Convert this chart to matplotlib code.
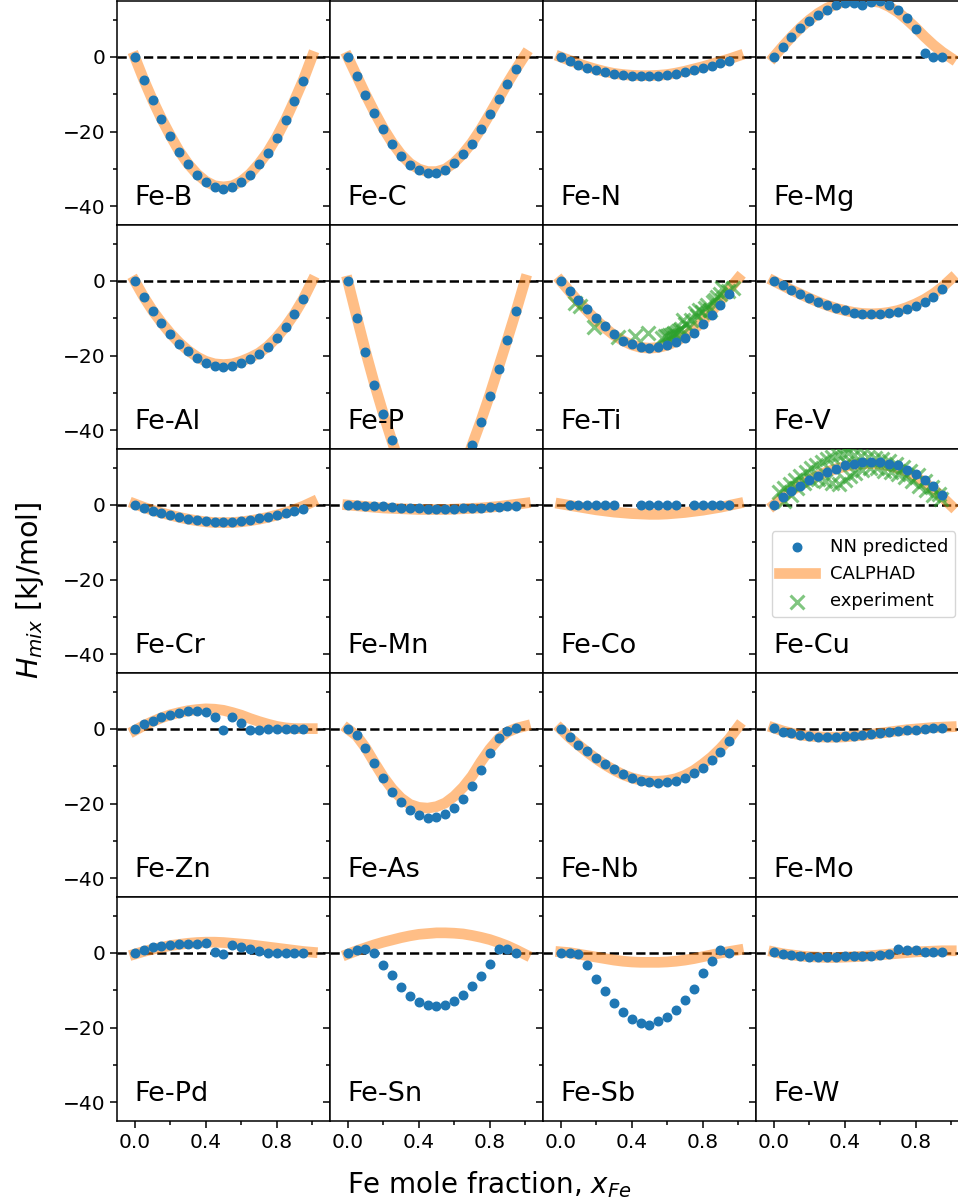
import numpy as np
import matplotlib.pyplot as plt
from matplotlib.ticker import MultipleLocator

nan = np.nan

# compositions (Fe mole fraction)
x_nn = [0.0, 0.05, 0.1, 0.15, 0.2, 0.25, 0.3, 0.35, 0.4, 0.45,
        0.5, 0.55, 0.6, 0.65, 0.7, 0.75, 0.8, 0.85, 0.9, 0.95]
x_cal = [0.0, 0.05, 0.1, 0.15, 0.2, 0.25, 0.3, 0.35, 0.4, 0.45, 0.5,
         0.55, 0.6, 0.65, 0.7, 0.75, 0.8, 0.85, 0.9, 0.95, 1.0]

# NN predicted / CALPHAD mixing enthalpies, kJ/mol
nn_B = [0, -6.1, -11.6, -16.6, -21.2, -25.4, -28.7, -31.5, -33.4, -34.8, -35.3, -34.8, -33.6, -31.5, -28.7, -25.8, -21.7, -17.0, -11.7, -6.3]
cal_B = [0, -6.0, -11.5, -16.5, -21.0, -25.2, -28.6, -31.3, -33.3, -34.5, -34.8, -34.5, -33.3, -31.3, -28.6, -25.4, -21.4, -16.8, -11.6, -6.1, 0.2]
nn_C = [0, -5.1, -10.1, -14.9, -19.4, -23.2, -26.4, -28.8, -30.4, -31.1, -31.1, -30.3, -28.5, -26.1, -23.2, -19.3, -15.3, -11.3, -7.1, -3.3]
cal_C = [0, -5.0, -10.0, -14.7, -19.1, -22.9, -26.1, -28.5, -30.0, -30.7, -30.7, -30.0, -28.3, -25.9, -22.9, -19.3, -15.3, -11.2, -7.0, -3.1, 0.6]
nn_N = [0, -1.2, -2.1, -3.0, -3.6, -4.1, -4.6, -4.8, -5.1, -5.1, -5.1, -5.1, -4.8, -4.6, -4.1, -3.6, -3.0, -2.4, -1.7, -1.1]
cal_N = [0, -0.9, -1.8, -2.6, -3.3, -3.9, -4.4, -4.7, -4.9, -5.0, -5.0, -4.9, -4.7, -4.3, -3.8, -3.2, -2.6, -1.9, -1.2, -0.5, 0.3]
nn_Mg = [0, 2.8, 5.4, 7.7, 9.7, 11.2, 12.7, 13.9, 14.5, 14.5, 13.9, 14.8, 15.1, 14.0, 12.7, 10.5, 7.4, 1.2, -0.1, -0.1]
cal_Mg = [0, 2.8, 5.4, 7.8, 9.9, 11.7, 13.1, 14.1, 14.8, 15.1, 15.2, 15.0, 14.6, 13.5, 12.0, 10.0, 7.8, 5.4, 3.2, 1.3, -0.3]

nn_Al = [0, -4.4, -8.1, -11.3, -14.2, -16.8, -18.8, -20.6, -22.0, -22.9, -23.0, -22.8, -22.0, -20.8, -19.5, -17.7, -15.3, -12.4, -8.9, -4.9]
cal_Al = [0, -4.2, -7.9, -11.1, -14.0, -16.5, -18.6, -20.3, -21.5, -22.2, -22.4, -22.2, -21.5, -20.5, -19.3, -17.5, -15.1, -12.2, -8.8, -4.8, 0.0]
nn_P = [0, -9.9, -19.1, -27.9, -35.6, -42.7, -49, -54, -57, -59, -60, -59, -57, -50, -43.8, -37.9, -30.8, -23.5, -15.7, -8.1]
cal_P = [0, -9.5, -18.8, -27.5, -35.5, -43, -50, -55, -58, -59.5, -60, -59.5, -57, -51, -44, -37.5, -30.5, -23, -15.5, -7.8, 0.3]
nn_Ti = [0, -2.7, -5.2, -7.6, -10.0, -12.1, -14.2, -16.0, -16.9, -17.7, -17.9, -17.7, -17.2, -16.4, -15.3, -13.8, -11.6, -9.2, -6.5, -3.6]
cal_Ti = [0, -2.8, -5.5, -8.1, -10.5, -12.6, -14.5, -16.0, -17.1, -17.8, -18.0, -17.8, -17.2, -16.2, -14.8, -13.0, -10.8, -8.2, -5.2, -2.2, 0.7]
nn_V = [0, -1.2, -2.4, -3.5, -4.5, -5.5, -6.4, -7.3, -7.9, -8.5, -8.9, -8.9, -8.9, -8.5, -8.2, -7.5, -6.7, -5.5, -4.2, -2.1]
cal_V = [0, -1.2, -2.4, -3.5, -4.6, -5.6, -6.5, -7.3, -7.9, -8.4, -8.7, -8.8, -8.7, -8.4, -7.9, -7.1, -6.1, -4.9, -3.4, -1.6, 0.6]

nn_Cr = [0, -0.9, -1.5, -2.1, -2.7, -3.2, -3.7, -4.0, -4.3, -4.5, -4.6, -4.5, -4.3, -4.0, -3.6, -3.2, -2.8, -2.2, -1.6, -1.1]
cal_Cr = [0.3, -0.6, -1.4, -2.1, -2.7, -3.3, -3.8, -4.2, -4.5, -4.7, -4.7, -4.7, -4.5, -4.2, -3.8, -3.3, -2.7, -2.0, -1.2, -0.3, 0.8]
nn_Mn = [0, 0, -0.2, -0.3, -0.4, -0.6, -0.7, -0.8, -0.9, -1.0, -1.0, -1.0, -1.0, -0.9, -0.8, -0.7, -0.6, -0.5, -0.4, -0.3]
cal_Mn = [0, -0.2, -0.4, -0.6, -0.8, -0.9, -1.0, -1.1, -1.2, -1.2, -1.2, -1.2, -1.1, -1.0, -0.9, -0.8, -0.6, -0.4, -0.1, 0.2, 0.5]
nn_Co = [nan, 0, 0, 0, 0, 0, 0, nan, nan, 0, 0, 0, 0, 0, nan, 0, 0, 0, 0, 0]
cal_Co = [0.3, -0.1, -0.5, -0.9, -1.3, -1.6, -1.9, -2.1, -2.3, -2.4, -2.5, -2.5, -2.4, -2.2, -2.0, -1.7, -1.4, -1.0, -0.6, -0.1, 0.4]
nn_Cu = [0, 2.1, 3.8, 5.2, 6.7, 7.8, 8.8, 9.7, 10.6, 11.1, 11.5, 11.6, 11.5, 11.1, 10.8, 9.4, 8.3, 6.8, 5.0, 2.8]
cal_Cu = [0, 2.0, 3.8, 5.3, 6.7, 7.9, 8.9, 9.7, 10.3, 10.8, 11.0, 11.1, 10.9, 10.5, 9.8, 8.9, 7.6, 6.0, 4.2, 2.1, -0.2]

nn_Zn = [0, 1.3, 2.2, 3.1, 3.8, 4.4, 4.7, 4.9, 4.6, 3.1, -0.4, 3.3, 1.7, -0.4, -0.4, 0.1, 0.1, 0.1, 0.1, 0.1]
cal_Zn = [-0.4, 0.9, 2.0, 3.0, 3.8, 4.4, 4.9, 5.2, 5.4, 5.3, 5.0, 4.4, 3.7, 2.8, 2.0, 1.3, 0.7, 0.3, 0.1, 0.1, 0.1]
nn_As = [0, -1.7, -5.2, -9.1, -13.2, -16.9, -19.6, -21.7, -23.1, -23.9, -23.6, -22.7, -21.1, -18.7, -15.3, -11.1, -6.3, -2.3, -0.5, 0.3]
cal_As = [0, -1.8, -5.0, -9.0, -12.8, -16.0, -18.5, -20.2, -21.0, -21.2, -20.8, -19.8, -18.0, -15.6, -12.6, -8.8, -5.4, -2.6, -0.8, 0.2, 0.8]
nn_Nb = [0, -2.1, -4.2, -6.0, -7.8, -9.4, -10.8, -12.0, -13.0, -13.8, -14.3, -14.5, -14.2, -13.8, -13.1, -11.9, -10.4, -8.4, -6.1, -3.3]
cal_Nb = [0, -2.3, -4.3, -6.2, -8.0, -9.6, -11.0, -12.2, -13.1, -13.7, -14.0, -14.0, -13.8, -13.3, -12.4, -11.1, -9.4, -7.5, -5.2, -2.6, 0.6]
nn_Mo = [0.2, -0.8, -1.2, -1.7, -2.0, -2.1, -2.2, -2.2, -2.0, -1.9, -1.6, -1.3, -1.1, -0.9, -0.6, -0.4, -0.2, 0, 0.2, 0.2]
cal_Mo = [0.3, -0.5, -1.1, -1.6, -1.9, -2.1, -2.2, -2.2, -2.1, -1.9, -1.7, -1.4, -1.1, -0.8, -0.5, -0.2, 0.0, 0.2, 0.4, 0.5, 0.6]

nn_Pd = [0, 0.9, 1.5, 1.9, 2.1, 2.3, 2.4, 2.4, 2.6, 0.3, -0.4, 2.2, 1.6, 1.1, 0.6, 0, 0, 0, 0, 0]
cal_Pd = [-0.3, 0.4, 1.0, 1.5, 2.0, 2.3, 2.6, 2.8, 2.9, 2.9, 2.8, 2.6, 2.4, 2.2, 1.9, 1.6, 1.3, 1.0, 0.7, 0.4, 0.2]
nn_Sn = [0, 0.8, 1.2, 0, -3.3, -6.0, -9.2, -11.6, -13.1, -14.0, -14.3, -13.9, -12.9, -11.3, -8.8, -6.1, -2.9, 1.2, 1.2, 0.1]
cal_Sn = [-0.3, 0.6, 1.4, 2.2, 2.9, 3.5, 4.1, 4.6, 5.0, 5.2, 5.4, 5.4, 5.3, 5.1, 4.7, 4.2, 3.6, 2.8, 1.9, 0.8, -0.4]
nn_Sb = [0, 0, -0.4, -3.1, -7.0, -10.3, -13.4, -15.9, -17.8, -18.8, -19.2, -18.2, -17.1, -15.3, -12.6, -9.6, -5.3, -2.1, 0.7, -0.1]
cal_Sb = [0.3, 0.1, -0.3, -0.7, -1.1, -1.5, -1.9, -2.2, -2.4, -2.5, -2.5, -2.5, -2.4, -2.2, -1.9, -1.5, -1.0, -0.5, 0.0, 0.4, 0.8]
nn_W = [0.2, -0.4, -0.6, -0.8, -1.1, -1.1, -1.1, -1.0, -0.9, -0.8, -0.7, -0.7, -0.6, -0.4, 1.0, 0.7, 0.7, 0.4, 0.3, 0.2]
cal_W = [0.3, -0.2, -0.5, -0.8, -1.0, -1.1, -1.2, -1.2, -1.1, -1.0, -0.9, -0.7, -0.5, -0.3, -0.1, 0.1, 0.3, 0.4, 0.5, 0.6, 0.6]

# experimental points
exp_Ti_x = [0.08, 0.107, 0.19, 0.32, 0.42, 0.49, 0.57, 0.59, 0.60, 0.61, 0.62, 0.63, 0.64, 0.65, 0.66,
            0.67, 0.675, 0.69, 0.70, 0.72, 0.735, 0.755, 0.77, 0.78, 0.795, 0.81, 0.825, 0.84, 0.855,
            0.87, 0.88, 0.895, 0.91, 0.94, 0.97]
exp_Ti_y = [-5.9, -6.7, -12.2, -15.0, -14.7, -14.0, -15.2, -14.8, -14.7, -14.5, -14.4, -14.2, -14.0, -13.8, -13.5,
            -13.1, -12.8, -10.4, -11.6, -12.2, -10.5, -8.6, -9.3, -7.7, -8.2, -7.3, -6.5, -7.7, -5.5,
            -5.2, -4.2, -3.5, -2.0, -2.8, -2.0]
exp_Cu_x = [0.03, 0.06, 0.09, 0.12, 0.15, 0.18, 0.21, 0.24, 0.27, 0.30, 0.33, 0.36, 0.39, 0.42,
            0.45, 0.49, 0.53, 0.57, 0.61, 0.65, 0.69, 0.73, 0.77, 0.81, 0.85, 0.89, 0.93,
            0.06, 0.10, 0.13, 0.17, 0.21, 0.25, 0.29, 0.33, 0.37, 0.40, 0.43, 0.46, 0.50, 0.54,
            0.58, 0.62, 0.66, 0.70, 0.74, 0.78, 0.82, 0.86, 0.90, 0.94]
exp_Cu_y = [3.5, 4.6, 5.6, 6.6, 7.8, 8.8, 9.8, 10.8, 11.6, 12.3, 12.9, 13.3, 13.6, 13.8,
            13.5, 13.2, 12.8, 12.6, 12.3, 11.8, 11.0, 10.2, 9.2, 8.0, 6.5, 4.8, 3.0,
            1.2, 2.8, 4.6, 5.8, 6.6, 6.9, 6.4, 5.8, 5.7, 6.6, 7.8, 8.7, 9.4, 9.9,
            9.8, 9.2, 8.8, 8.4, 7.6, 6.4, 5.0, 4.0, 2.8, 1.6]

labels = ['Fe-B', 'Fe-C', 'Fe-N', 'Fe-Mg',
          'Fe-Al', 'Fe-P', 'Fe-Ti', 'Fe-V',
          'Fe-Cr', 'Fe-Mn', 'Fe-Co', 'Fe-Cu',
          'Fe-Zn', 'Fe-As', 'Fe-Nb', 'Fe-Mo',
          'Fe-Pd', 'Fe-Sn', 'Fe-Sb', 'Fe-W']
nn_all = [nn_B, nn_C, nn_N, nn_Mg, nn_Al, nn_P, nn_Ti, nn_V, nn_Cr, nn_Mn,
          nn_Co, nn_Cu, nn_Zn, nn_As, nn_Nb, nn_Mo, nn_Pd, nn_Sn, nn_Sb, nn_W]
cal_all = [cal_B, cal_C, cal_N, cal_Mg, cal_Al, cal_P, cal_Ti, cal_V, cal_Cr, cal_Mn,
           cal_Co, cal_Cu, cal_Zn, cal_As, cal_Nb, cal_Mo, cal_Pd, cal_Sn, cal_Sb, cal_W]
experiments = {'Fe-Ti': (exp_Ti_x, exp_Ti_y), 'Fe-Cu': (exp_Cu_x, exp_Cu_y)}

fig, axes = plt.subplots(5, 4, figsize=(9.58, 12.03), dpi=100, sharex=True, sharey=True)
fig.subplots_adjust(left=117/958, right=969/958, top=1 - 1/1203, bottom=82/1203,
                    wspace=0, hspace=0)

for ax, name, nn, cal in zip(axes.flat, labels, nn_all, cal_all):
    ax.axhline(0, color='k', ls='--', lw=1.8, zorder=1)
    ax.plot(x_cal, cal, color='#ff7f0e', alpha=0.5, lw=7.7, zorder=2, label='CALPHAD')
    if name in experiments:
        ex, ey = experiments[name]
        ax.scatter(ex, ey, marker='x', s=100, linewidths=2.2, color='#2ca02c',
                   alpha=0.6, zorder=3, label='experiment')
    ax.scatter(x_nn, nn, s=38, color='#1f77b4', zorder=4, label='NN predicted')
    ax.text(0.08, 0.089, name, transform=ax.transAxes, fontsize=19.5, va='baseline')
    for sp in ax.spines.values():
        sp.set_linewidth(1.1)
    ax.tick_params(which='major', length=5, width=1.1, labelsize=14.5)
    ax.tick_params(which='minor', length=3, width=1.1)

ax0 = axes[0, 0]
ax0.set_xlim(-0.1, 1.1)
ax0.set_ylim(-45, 15)
ax0.xaxis.set_major_locator(MultipleLocator(0.4))
ax0.xaxis.set_minor_locator(MultipleLocator(0.2))
ax0.yaxis.set_major_locator(MultipleLocator(20))
ax0.yaxis.set_minor_locator(MultipleLocator(10))

axc = axes[2, 3]
h, l = axc.get_legend_handles_labels()
order = [l.index('NN predicted'), l.index('CALPHAD'), l.index('experiment')]
axc.legend([h[i] for i in order], [l[i] for i in order], loc='upper left',
           bbox_to_anchor=(0.074, 0.634), borderaxespad=0, fontsize=13)

fig.text(0.511, 0.0083, 'Fe mole fraction, $x_{Fe}$', ha='center', va='baseline', fontsize=20)
fig.text(0.031, 0.509, '$H_{mix}$ [kJ/mol]', ha='center', va='center', rotation=90, fontsize=20.5)

fig.savefig('out.png', dpi=100)
